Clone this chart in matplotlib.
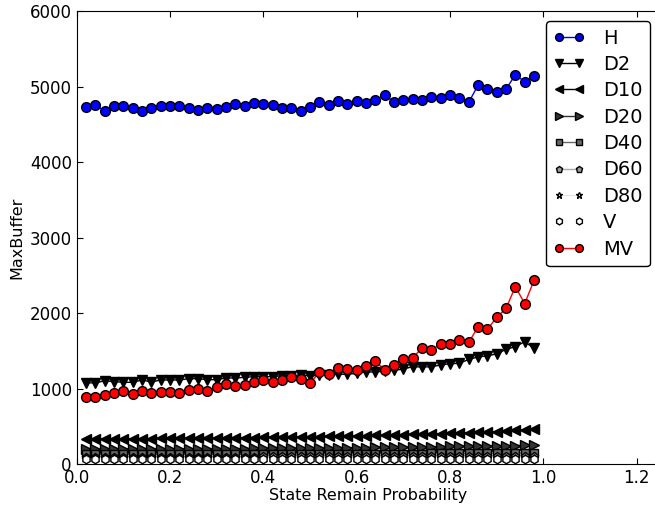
import matplotlib
matplotlib.use('Agg')
import matplotlib.pyplot as plt

# State remain probability (x axis)
prob = [0.02, 0.04, 0.06, 0.08, 0.10, 0.12, 0.14, 0.16, 0.18, 0.20,
        0.22, 0.24, 0.26, 0.28, 0.30, 0.32, 0.34, 0.36, 0.38, 0.40,
        0.42, 0.44, 0.46, 0.48, 0.50, 0.52, 0.54, 0.56, 0.58, 0.60,
        0.62, 0.64, 0.66, 0.68, 0.70, 0.72, 0.74, 0.76, 0.78, 0.80,
        0.82, 0.84, 0.86, 0.88, 0.90, 0.92, 0.94, 0.96, 0.98]

H = [4725, 4755, 4675, 4738, 4738, 4711, 4679, 4711, 4738, 4738,
     4738, 4719, 4689, 4711, 4698, 4725, 4772, 4746, 4785, 4764,
     4755, 4719, 4719, 4675, 4732, 4791, 4755, 4808, 4764, 4808,
     4781, 4825, 4883, 4799, 4825, 4838, 4817, 4861, 4852, 4883,
     4844, 4791, 5016, 4967, 4923, 4967, 5156, 5063, 5135]

D2 = [1077, 1073, 1103, 1091, 1082, 1082, 1113, 1086, 1113, 1113,
      1113, 1130, 1130, 1117, 1117, 1139, 1139, 1148, 1157, 1157,
      1157, 1170, 1166, 1183, 1166, 1175, 1178, 1188, 1188, 1201,
      1219, 1219, 1232, 1240, 1258, 1289, 1285, 1289, 1311, 1329,
      1333, 1386, 1417, 1435, 1457, 1519, 1554, 1620, 1532]

D10 = [330, 331, 332, 333, 334, 335, 336, 337, 338, 340,
       341, 342, 343, 344, 346, 347, 348, 350, 351, 353,
       354, 356, 358, 360, 362, 364, 366, 368, 370, 373,
       376, 379, 382, 385, 388, 392, 395, 398, 402, 406,
       410, 414, 419, 424, 430, 437, 445, 452, 458]

D20 = [196, 197, 197, 198, 198, 199, 199, 200, 200, 201,
       201, 202, 202, 203, 203, 204, 205, 205, 206, 207,
       208, 209, 210, 211, 212, 213, 214, 215, 216, 217,
       218, 220, 221, 222, 224, 225, 227, 228, 230, 232,
       233, 235, 237, 239, 241, 243, 245, 248, 251]

D40 = [128, 128, 128, 129, 129, 129, 129, 130, 130, 130,
       130, 131, 131, 131, 131, 132, 132, 132, 133, 133,
       133, 134, 134, 134, 135, 135, 135, 136, 136, 136,
       137, 137, 137, 138, 138, 139, 139, 140, 140, 141,
       141, 142, 142, 143, 143, 144, 145, 145, 146]

D60 = [96, 96, 96, 96, 97, 97, 97, 97, 97, 98,
       98, 98, 98, 98, 99, 99, 99, 99, 99, 100,
       100, 100, 100, 101, 101, 101, 101, 102, 102, 102,
       102, 103, 103, 103, 104, 104, 104, 105, 105, 105,
       106, 106, 106, 107, 107, 108, 108, 109, 109]

D80 = [74, 74, 74, 74, 74, 75, 75, 75, 75, 75,
       75, 75, 76, 76, 76, 76, 76, 76, 77, 77,
       77, 77, 77, 77, 78, 78, 78, 78, 78, 79,
       79, 79, 79, 79, 80, 80, 80, 80, 81, 81,
       81, 81, 82, 82, 82, 83, 83, 83, 84]

V = [60, 60, 60, 60, 60, 60, 60, 61, 61, 61,
     61, 61, 61, 61, 61, 62, 62, 62, 62, 62,
     62, 62, 62, 63, 63, 63, 63, 63, 63, 63,
     64, 64, 64, 64, 64, 64, 65, 65, 65, 65,
     65, 65, 66, 66, 66, 66, 67, 67, 67]

MV = [892, 887, 918, 945, 971, 923, 963, 945, 949, 958,
      936, 980, 998, 967, 1020, 1060, 1033, 1042, 1082, 1117,
      1091, 1113, 1148, 1120, 1071, 1212, 1196, 1267, 1263, 1249,
      1293, 1364, 1240, 1316, 1386, 1408, 1536, 1514, 1585, 1585,
      1642, 1611, 1815, 1784, 1943, 2062, 2349, 2124, 2433]

plt.rcParams['font.family'] = 'DejaVu Sans'
plt.rcParams['xtick.direction'] = 'in'
plt.rcParams['ytick.direction'] = 'in'
plt.rcParams['xtick.top'] = True

fig = plt.figure(figsize=(6.55, 5.07), dpi=100)
# the axes run past the right edge of the figure (cropped like the original)
ax = fig.add_axes([0.1171, 0.0848, 0.8906, 0.8935])

# Plot each series
ax.plot(prob, H, '-o', color='blue', mfc='blue', mec='black', ms=7, lw=1, label='H')
ax.plot(prob, D2, '-v', color='black', mfc='black', mec='black', ms=7, lw=1, label='D2')
ax.plot(prob, D10, '-<', color='black', mfc='black', mec='black', ms=7, lw=1, label='D10')
ax.plot(prob, D20, '->', color='#333333', mfc='#333333', mec='black', ms=7, lw=1, label='D20')
ax.plot(prob, D40, '-s', color='#666666', mfc='#666666', mec='black', ms=6, lw=1, label='D40')
ax.plot(prob, D60, '-p', color='#aaaaaa', mfc='#999999', mec='black', ms=6, lw=1, label='D60')
ax.plot(prob, D80, '-*', color='#e6e6e6', mfc='white', mec='black', ms=6, lw=1, label='D80')
ax.plot(prob, V, '-h', color='white', mfc='white', mec='black', ms=6, lw=1, label='V')
ax.plot(prob, MV, '-o', color='red', mfc='red', mec='black', ms=7, lw=1, label='MV')

ax.set_xlim(0, 1.25)
ax.set_ylim(0, 6000)
ax.set_xticks([0.0, 0.2, 0.4, 0.6, 0.8, 1.0, 1.2])
ax.set_yticks([0, 1000, 2000, 3000, 4000, 5000, 6000])
ax.tick_params(labelsize=12, length=4)

ax.set_xlabel('State Remain Probability', fontsize=11.5, labelpad=1)
ax.set_ylabel('MaxBuffer', fontsize=11.5)

leg = ax.legend(loc='upper right', numpoints=2, fontsize=14, fancybox=True,
                markerscale=0.8, handlelength=1.6, handletextpad=0.95,
                borderaxespad=0.5, labelspacing=0.38, framealpha=1)
leg.get_frame().set_edgecolor('black')

fig.savefig('out.png', dpi=100)
